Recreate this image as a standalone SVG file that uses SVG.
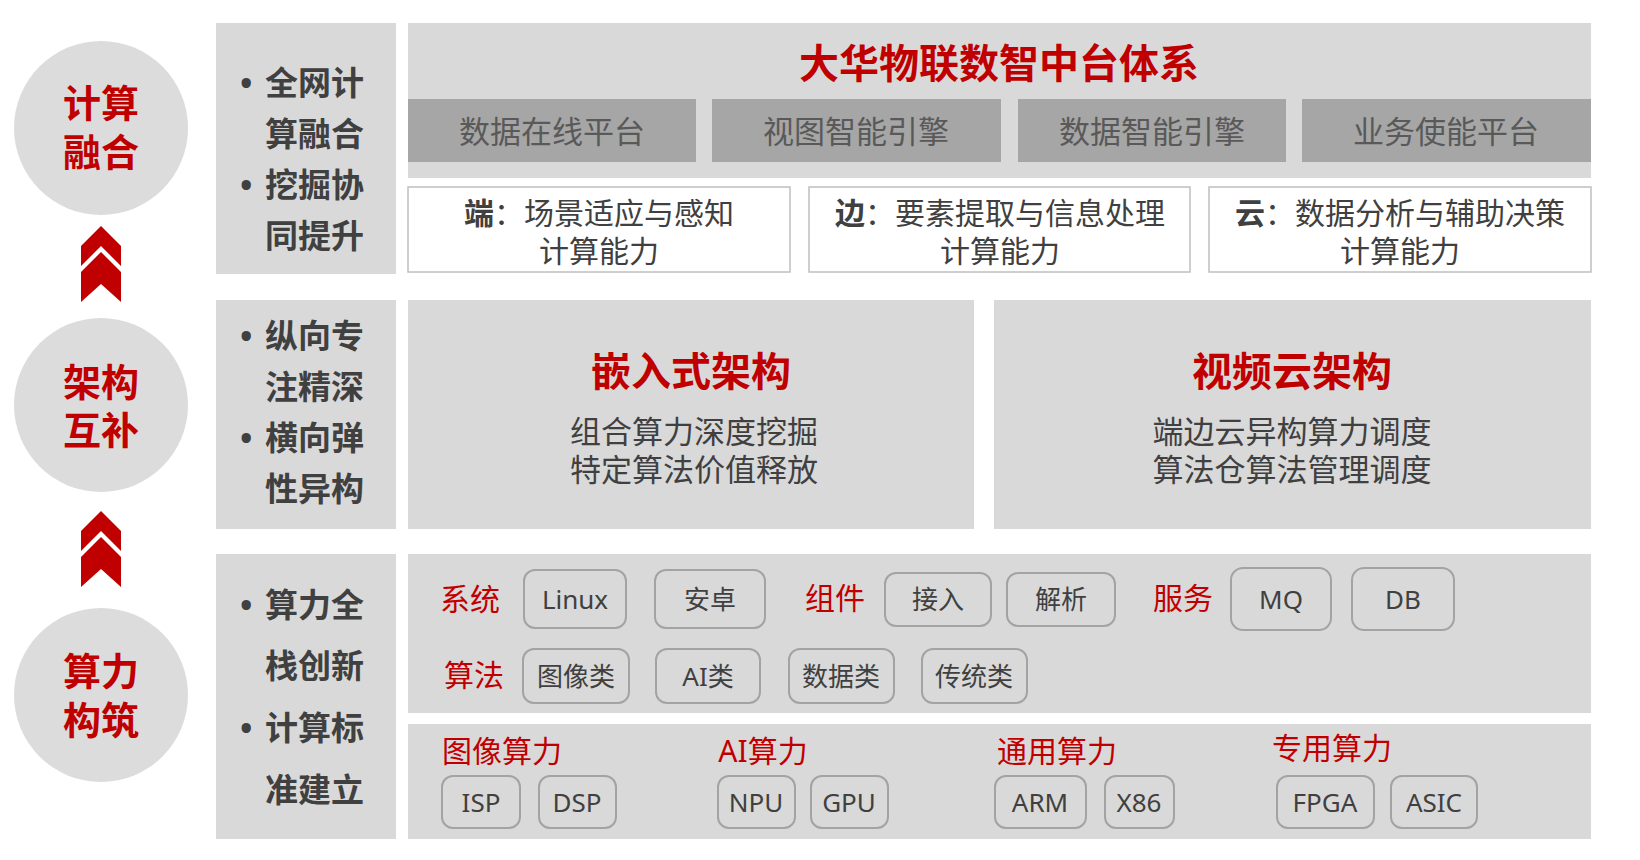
<svg xmlns="http://www.w3.org/2000/svg" width="1640" height="860" viewBox="0 0 1640 860">
<style>
text{font-family:"Noto Sans","Noto Sans CJK SC",sans-serif;dominant-baseline:central;text-anchor:middle}
.panel{fill:#d9d9d9}
.circ{fill:#dcdcdc}
.dark{fill:#a6a6a6}
.wbox{fill:#ffffff;stroke:#bfbfbf;stroke-width:1.5}
.tag{fill:#d9d9d9;stroke:#a3a3a3;stroke-width:2}
.ct{font-size:38px;font-weight:700;fill:#c00000}
.lt{font-size:33px;font-weight:700;fill:#404040;text-anchor:start}
.title{font-size:40px;font-weight:700;fill:#c00000}
.dt{font-size:31px;fill:#595959}
.wt{font-size:30px;fill:#404040}
.wb{font-weight:700}
.arch{font-size:40px;font-weight:700;fill:#c00000}
.at{font-size:31px;fill:#404040}
.cat{font-size:30px;fill:#c00000}
.tt{font-size:26px;fill:#404040}
.chev{fill:#c00000}
</style>
<rect width="1640" height="860" fill="#ffffff"/>

<g id="circle-compute">
<circle class="circ" cx="101" cy="128" r="87"/>
<text class="ct" x="101" y="102">计算</text>
<text class="ct" x="101" y="151">融合</text>
</g>
<g id="circle-arch">
<circle class="circ" cx="101" cy="405" r="87"/>
<text class="ct" x="101" y="381">架构</text>
<text class="ct" x="101" y="429">互补</text>
</g>
<g id="circle-power">
<circle class="circ" cx="101" cy="695" r="87"/>
<text class="ct" x="101" y="670">算力</text>
<text class="ct" x="101" y="719">构筑</text>
</g>

<g id="connectors">
<polygon class="chev" points="101,226 121,246 121,266 101,246 81,266 81,246"/>
<polygon class="chev" points="101,252 121,272 121,302 101,284 81,302 81,272"/>
<polygon class="chev" points="101,511 121,531 121,551 101,531 81,551 81,531"/>
<polygon class="chev" points="101,537 121,557 121,587 101,569 81,587 81,557"/>
</g>

<g id="left-row1">
<rect class="panel" x="216" y="23" width="180" height="251"/>
<text class="lt" x="240" y="82">•</text>
<text class="lt" x="265" y="82">全网计</text>
<text class="lt" x="265" y="133">算融合</text>
<text class="lt" x="240" y="184">•</text>
<text class="lt" x="265" y="184">挖掘协</text>
<text class="lt" x="265" y="235">同提升</text>
</g>
<g id="left-row2">
<rect class="panel" x="216" y="300" width="180" height="229"/>
<text class="lt" x="240" y="335">•</text>
<text class="lt" x="265" y="335">纵向专</text>
<text class="lt" x="265" y="386">注精深</text>
<text class="lt" x="240" y="437">•</text>
<text class="lt" x="265" y="437">横向弹</text>
<text class="lt" x="265" y="488">性异构</text>
</g>
<g id="left-row3">
<rect class="panel" x="216" y="554" width="180" height="285"/>
<text class="lt" x="240" y="604">•</text>
<text class="lt" x="265" y="604">算力全</text>
<text class="lt" x="265" y="665">栈创新</text>
<text class="lt" x="240" y="727">•</text>
<text class="lt" x="265" y="727">计算标</text>
<text class="lt" x="265" y="789">准建立</text>
</g>

<g id="platform">
<rect class="panel" x="408" y="23" width="1183" height="155"/>
<text class="title" x="999" y="62">大华物联数智中台体系</text>
</g>
<g id="box-data-online">
<rect class="dark" x="408" y="99" width="288" height="63"/>
<text class="dt" x="552" y="131">数据在线平台</text>
</g>
<g id="box-view-engine">
<rect class="dark" x="712" y="99" width="289" height="63"/>
<text class="dt" x="856" y="131">视图智能引擎</text>
</g>
<g id="box-data-engine">
<rect class="dark" x="1018" y="99" width="268" height="63"/>
<text class="dt" x="1152" y="131">数据智能引擎</text>
</g>
<g id="box-business">
<rect class="dark" x="1302" y="99" width="289" height="63"/>
<text class="dt" x="1446" y="131">业务使能平台</text>
</g>

<g id="box-end">
<rect class="wbox" x="408" y="187" width="382" height="85"/>
<text class="wt" x="599" y="212"><tspan class="wb">端</tspan>：场景适应与感知</text>
<text class="wt" x="599" y="250">计算能力</text>
</g>
<g id="box-edge">
<rect class="wbox" x="809" y="187" width="381" height="85"/>
<text class="wt" x="1000" y="212"><tspan class="wb">边</tspan>：要素提取与信息处理</text>
<text class="wt" x="1000" y="250">计算能力</text>
</g>
<g id="box-cloud">
<rect class="wbox" x="1209" y="187" width="382" height="85"/>
<text class="wt" x="1400" y="212"><tspan class="wb">云</tspan>：数据分析与辅助决策</text>
<text class="wt" x="1400" y="250">计算能力</text>
</g>

<g id="embedded-arch">
<rect class="panel" x="408" y="300" width="566" height="229"/>
<text class="arch" x="691" y="370">嵌入式架构</text>
<text class="at" x="694" y="431">组合算力深度挖掘</text>
<text class="at" x="694" y="469">特定算法价值释放</text>
</g>
<g id="cloud-arch">
<rect class="panel" x="994" y="300" width="597" height="229"/>
<text class="arch" x="1292" y="370">视频云架构</text>
<text class="at" x="1292" y="431">端边云异构算力调度</text>
<text class="at" x="1292" y="469">算法仓算法管理调度</text>
</g>

<g id="software-stack">
<rect class="panel" x="408" y="554" width="1183" height="159"/>
<text class="cat" x="470" y="598">系统</text>
<text class="cat" x="835" y="597">组件</text>
<text class="cat" x="1183" y="597">服务</text>
<text class="cat" x="474" y="674">算法</text>
</g>
<g id="tag-linux"><rect class="tag" x="524" y="570" width="102" height="58" rx="11"/><text class="tt" x="575" y="599">Linux</text></g>
<g id="tag-android"><rect class="tag" x="655" y="570" width="110" height="58" rx="11"/><text class="tt" x="710" y="599">安卓</text></g>
<g id="tag-access"><rect class="tag" x="885" y="573" width="106" height="53" rx="11"/><text class="tt" x="938" y="599">接入</text></g>
<g id="tag-parse"><rect class="tag" x="1007" y="573" width="108" height="53" rx="11"/><text class="tt" x="1061" y="599">解析</text></g>
<g id="tag-mq"><rect class="tag" x="1231" y="568" width="100" height="62" rx="12"/><text class="tt" x="1281" y="599">MQ</text></g>
<g id="tag-db"><rect class="tag" x="1352" y="568" width="102" height="62" rx="12"/><text class="tt" x="1403" y="599">DB</text></g>
<g id="tag-image"><rect class="tag" x="523" y="649" width="106" height="54" rx="11"/><text class="tt" x="576" y="676">图像类</text></g>
<g id="tag-ai"><rect class="tag" x="656" y="649" width="104" height="54" rx="11"/><text class="tt" x="708" y="676">AI类</text></g>
<g id="tag-data"><rect class="tag" x="789" y="649" width="105" height="54" rx="11"/><text class="tt" x="841" y="676">数据类</text></g>
<g id="tag-trad"><rect class="tag" x="922" y="649" width="105" height="54" rx="11"/><text class="tt" x="974" y="676">传统类</text></g>

<g id="hardware-stack">
<rect class="panel" x="408" y="724" width="1183" height="115"/>
<text class="cat" x="502" y="750">图像算力</text>
<text class="cat" x="763" y="750">AI算力</text>
<text class="cat" x="1057" y="750">通用算力</text>
<text class="cat" x="1332" y="747">专用算力</text>
</g>
<g id="tag-isp"><rect class="tag" x="442" y="776" width="78" height="52" rx="11"/><text class="tt" x="481" y="802">ISP</text></g>
<g id="tag-dsp"><rect class="tag" x="539" y="776" width="77" height="52" rx="11"/><text class="tt" x="577" y="802">DSP</text></g>
<g id="tag-npu"><rect class="tag" x="718" y="776" width="77" height="52" rx="11"/><text class="tt" x="756" y="802">NPU</text></g>
<g id="tag-gpu"><rect class="tag" x="811" y="776" width="77" height="52" rx="11"/><text class="tt" x="849" y="802">GPU</text></g>
<g id="tag-arm"><rect class="tag" x="995" y="776" width="91" height="52" rx="11"/><text class="tt" x="1040" y="802">ARM</text></g>
<g id="tag-x86"><rect class="tag" x="1105" y="776" width="69" height="52" rx="11"/><text class="tt" x="1139" y="802">X86</text></g>
<g id="tag-fpga"><rect class="tag" x="1277" y="776" width="97" height="52" rx="11"/><text class="tt" x="1325" y="802">FPGA</text></g>
<g id="tag-asic"><rect class="tag" x="1391" y="776" width="86" height="52" rx="11"/><text class="tt" x="1434" y="802">ASIC</text></g>
</svg>
